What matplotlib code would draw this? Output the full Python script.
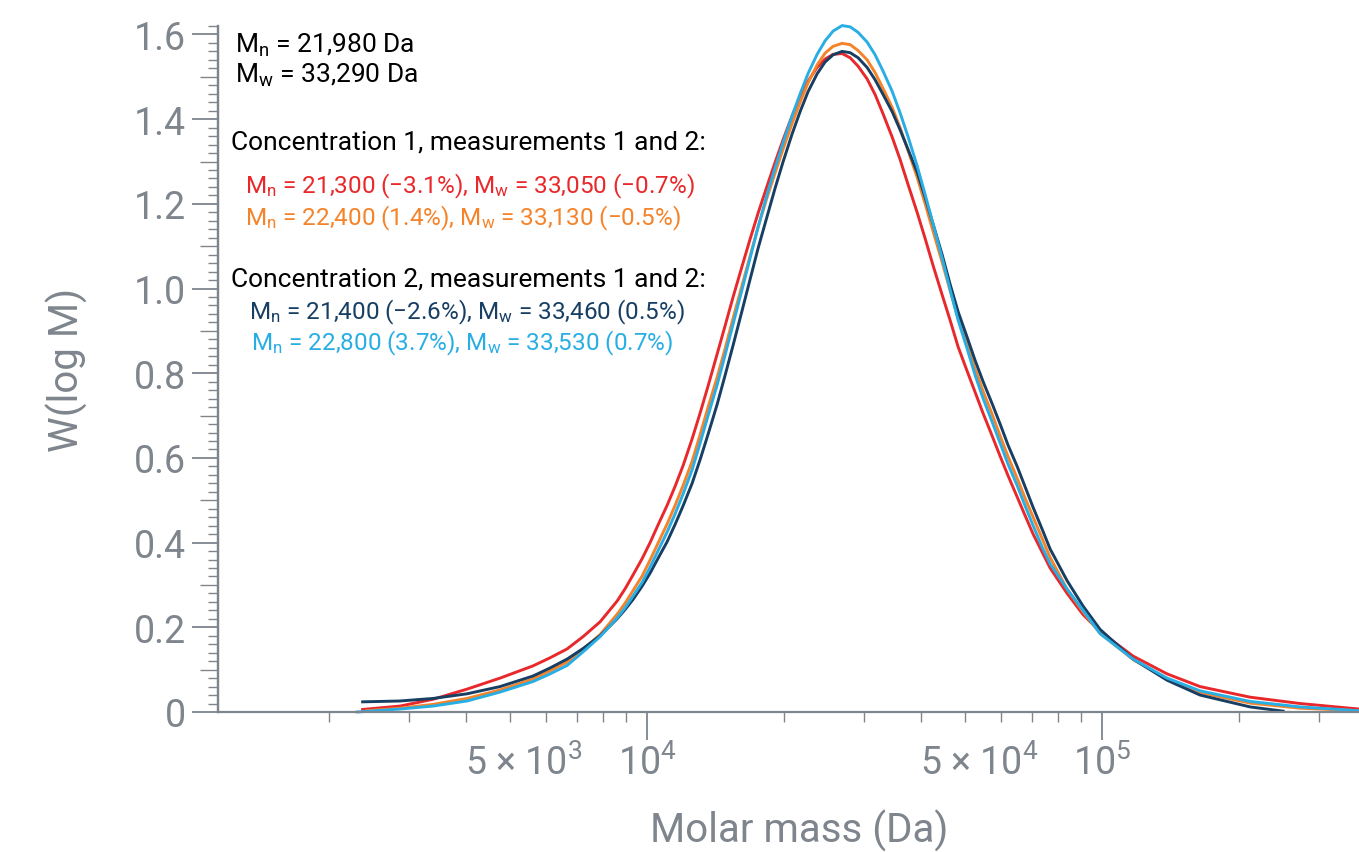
import math
import matplotlib
matplotlib.use("Agg")
import matplotlib.pyplot as plt
from matplotlib.ticker import FixedLocator, NullFormatter, FuncFormatter
from matplotlib.transforms import offset_copy

# ---------------- data ----------------
molar_mass = [2305, 2865, 3385, 4020, 4750, 5616, 6120, 6672, 7233,
              7884, 8593, 8947, 9316, 9750, 10153, 10572, 11066, 11523, 11999,
              12559, 13078, 13616, 14251, 14839, 15453, 16173, 16843, 17536, 18351,
              19112, 19910, 20830, 21696, 22586, 23640, 24616, 25632, 26826, 27941,
              29090, 30451, 31704, 33022, 34554, 35975, 37475, 39215, 40843, 42527,
              44514, 46348, 48269, 50514, 52606, 54775, 57330, 59690, 62143, 65060,
              67723, 70550, 73810, 76880,
              83780, 90830, 98990, 116990, 138970, 164200, 211500, 272400, 367100]

# concentration 1, measurement 1 (red)
w_c1_m1 = [None, 0.014, 0.030, 0.054, 0.080, 0.109, 0.128, 0.149, 0.178,
           0.213, 0.262, 0.291, 0.324, 0.362, 0.400, 0.442, 0.488, 0.533, 0.582,
           0.645, 0.706, 0.770, 0.845, 0.912, 0.980, 1.053, 1.117, 1.178, 1.242,
           1.298, 1.352, 1.408, 1.452, 1.490, 1.522, 1.542, 1.553, 1.555, 1.545,
           1.525, 1.495, 1.458, 1.412, 1.358, 1.305, 1.245, 1.180, 1.118, 1.054,
           0.985, 0.925, 0.862, 0.805, 0.755, 0.705, 0.652, 0.604, 0.558, 0.508,
           0.464, 0.420, 0.378, 0.340,
           0.280, 0.230, 0.190, 0.132, 0.090, 0.060, 0.035, 0.020, 0.007]
# concentration 1, measurement 2 (orange)
w_c1_m2 = [None, 0.009, 0.018, 0.032, 0.052, 0.078, 0.097, 0.118, 0.148,
           0.183, 0.231, 0.257, 0.287, 0.321, 0.359, 0.399, 0.444, 0.488, 0.535,
           0.592, 0.655, 0.720, 0.790, 0.858, 0.930, 1.008, 1.077, 1.145, 1.215,
           1.273, 1.330, 1.390, 1.440, 1.486, 1.528, 1.556, 1.572, 1.579, 1.576,
           1.562, 1.540, 1.510, 1.472, 1.428, 1.380, 1.325, 1.263, 1.200, 1.135,
           1.062, 0.995, 0.930, 0.868, 0.810, 0.757, 0.703, 0.652, 0.603, 0.552,
           0.505, 0.460, 0.410, 0.365,
           0.290, 0.237, 0.186, 0.124, 0.078, 0.046, 0.021, 0.009, 0.003]
# concentration 2, measurement 1 (navy)
w_c2_m1 = [None, 0.026, 0.032, 0.043, 0.060, 0.085, 0.104, 0.125, 0.150,
           0.180, 0.220, 0.242, 0.266, 0.297, 0.328, 0.363, 0.402, 0.443, 0.487,
           0.540, 0.596, 0.656, 0.726, 0.795, 0.866, 0.948, 1.022, 1.095, 1.170,
           1.237, 1.300, 1.365, 1.418, 1.465, 1.507, 1.535, 1.552, 1.560, 1.557,
           1.545, 1.522, 1.493, 1.458, 1.418, 1.375, 1.328, 1.275, 1.215, 1.152,
           1.080, 1.010, 0.945, 0.885, 0.830, 0.780, 0.728, 0.680, 0.630, 0.580,
           0.532, 0.483, 0.432, 0.385,
           0.310, 0.250, 0.195, 0.125, 0.075, 0.040, 0.012, None, None]
# concentration 2, measurement 2 (light blue)
w_c2_m2 = [0.000, 0.007, 0.014, 0.026, 0.047, 0.072, 0.090, 0.110, 0.142,
           0.178, 0.222, 0.246, 0.274, 0.306, 0.342, 0.381, 0.425, 0.468, 0.515,
           0.572, 0.635, 0.700, 0.772, 0.843, 0.916, 0.998, 1.072, 1.145, 1.222,
           1.285, 1.345, 1.408, 1.460, 1.508, 1.553, 1.585, 1.608, 1.621, 1.618,
           1.605, 1.582, 1.552, 1.513, 1.466, 1.415, 1.358, 1.290, 1.222, 1.152,
           1.072, 0.997, 0.925, 0.858, 0.795, 0.740, 0.685, 0.635, 0.585, 0.535,
           0.487, 0.440, 0.390, 0.350,
           0.290, 0.240, 0.185, 0.125, 0.080, 0.050, 0.025, 0.012, 0.003]

series = [w_c1_m1, w_c1_m2, w_c2_m1, w_c2_m2]
colors = ['#e8282b', '#f5832a', '#173e63', '#29aee4']

# start / end points of the traces that do not span the whole grid
start_pts = {0: (2370, 0.006), 1: (2420, 0.003), 2: (2370, 0.024)}
end_pts = {2: (250000, 0.002)}

header_lines = [r'$\mathregular{M_n}$ = 21,980 Da', r'$\mathregular{M_w}$ = 33,290 Da']
group_titles = ['Concentration 1, measurements 1 and 2:',
                'Concentration 2, measurements 1 and 2:']
result_lines = [r'$\mathregular{M_n}$ = 21,300 (−3.1%), $\mathregular{M_w}$ = 33,050 (−0.7%)',
                r'$\mathregular{M_n}$ = 22,400 (1.4%), $\mathregular{M_w}$ = 33,130 (−0.5%)',
                r'$\mathregular{M_n}$ = 21,400 (−2.6%), $\mathregular{M_w}$ = 33,460 (0.5%)',
                r'$\mathregular{M_n}$ = 22,800 (3.7%), $\mathregular{M_w}$ = 33,530 (0.7%)']

y_ticks = [0, 0.2, 0.4, 0.6, 0.8, 1.0, 1.2, 1.4, 1.6]
x_major = [1e4, 1e5]
x_mid_labels = [5e3, 5e4]

# ---------------- style ----------------
plt.rcParams['font.family'] = ['Roboto', 'DejaVu Sans']
plt.rcParams['mathtext.fontset'] = 'custom'
plt.rcParams['mathtext.rm'] = 'Roboto'
GREY = '#7e858c'

fig = plt.figure(figsize=(13.59, 8.53), dpi=100)
ax = fig.add_axes([218 / 1359, 140 / 853, 1141 / 1359, 686 / 853])

for i, (w, c) in enumerate(zip(series, colors)):
    xs, ys = [], []
    if i in start_pts:
        xs.append(start_pts[i][0]); ys.append(start_pts[i][1])
    for m, v in zip(molar_mass, w):
        if v is not None:
            xs.append(m); ys.append(v)
    if i in end_pts:
        xs.append(end_pts[i][0]); ys.append(end_pts[i][1])
    ax.plot(xs, ys, color=c, lw=2.1, clip_on=False, solid_joinstyle='round')

ax.set_xscale('log')
ax.set_xlim(1140, 367000)
ax.set_ylim(0, 1.62)

for s in ['top', 'right']:
    ax.spines[s].set_visible(False)
for s in ['left', 'bottom']:
    ax.spines[s].set_color(GREY)
    ax.spines[s].set_linewidth(1.6)

# y axis ticks (long every 0.2, medium at odd tenths, short every 0.02)
ax.yaxis.set_major_locator(FixedLocator(y_ticks))
ax.yaxis.set_major_formatter(FuncFormatter(lambda v, p: '0' if v == 0 else f'{v:.1f}'))
ax.yaxis.set_minor_locator(FixedLocator([i * 0.02 for i in range(82) if i % 5 != 0]))
ax.tick_params(axis='y', which='major', length=19, width=1.3, color=GREY,
               labelcolor=GREY, labelsize=27, pad=4)
ax.tick_params(axis='y', which='minor', length=7, width=1.0, color=GREY)
sec = ax.secondary_yaxis('left')
sec.set_yticks([0.1, 0.3, 0.5, 0.7, 0.9, 1.1, 1.3, 1.5])
sec.tick_params(length=13, width=1.0, color=GREY, labelleft=False)
sec.spines['left'].set_color(GREY)
sec.spines['left'].set_linewidth(1.6)

# x axis ticks
ax.xaxis.set_major_locator(FixedLocator(x_major))
ax.xaxis.set_major_formatter(FuncFormatter(lambda v, p: r'$\mathregular{10^{%d}}$' % round(math.log10(v))))
minors = [k * 10 ** e for e in (3, 4, 5) for k in range(2, 10)]
ax.xaxis.set_minor_locator(FixedLocator(minors))
ax.xaxis.set_minor_formatter(NullFormatter())
ax.tick_params(axis='x', which='major', length=20, width=1.3, color=GREY,
               labelcolor=GREY, labelsize=27, pad=3)
ax.tick_params(axis='x', which='minor', length=7, width=1.0, color=GREY)

lab_tr = offset_copy(ax.get_xaxis_transform(), fig=fig, x=10, y=-23, units='points')
for m in x_mid_labels:
    e = round(math.log10(m / 5))
    ax.text(m, 0, r'5 × $\mathregular{10^{%d}}$' % e, transform=lab_tr,
            ha='center', va='top', fontsize=27, color=GREY)

ax.set_ylabel('W(log M)', fontsize=29, color=GREY, labelpad=33)
ax.set_xlabel('Molar mass (Da)', fontsize=29, color=GREY)
ax.xaxis.set_label_coords(0.509, -0.141)

# annotations
ax.text(0.015, 0.962, header_lines[0], transform=ax.transAxes, fontsize=19, color='black')
ax.text(0.015, 0.918, header_lines[1], transform=ax.transAxes, fontsize=19, color='black')
ax.text(0.011, 0.821, group_titles[0], transform=ax.transAxes, fontsize=19, color='black')
ax.text(0.024, 0.757, result_lines[0], transform=ax.transAxes, fontsize=17.5, color=colors[0])
ax.text(0.024, 0.710, result_lines[1], transform=ax.transAxes, fontsize=17.5, color=colors[1])
ax.text(0.011, 0.621, group_titles[1], transform=ax.transAxes, fontsize=19, color='black')
ax.text(0.027, 0.573, result_lines[2], transform=ax.transAxes, fontsize=17.5, color=colors[2])
ax.text(0.029, 0.529, result_lines[3], transform=ax.transAxes, fontsize=17.5, color=colors[3])

fig.savefig('out.png', dpi=100)
